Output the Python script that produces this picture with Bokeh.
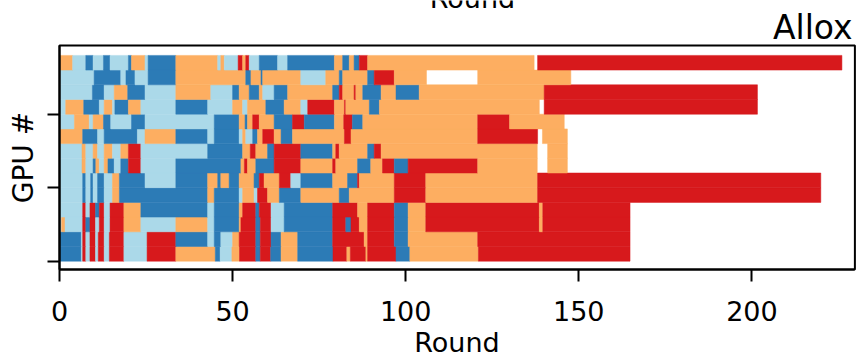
from bokeh.plotting import figure
from bokeh.models import Range1d, FixedTicker, Label, ColumnDataSource
from bokeh.embed import file_html
from bokeh.resources import INLINE

# Job occupancy per GPU: (start round, end round, job kind)
gpu_13 = [(0, 3.8, "O"), (3.8, 7.6, "L"), (7.6, 9.7, "B"), (9.7, 12.7, "L"), (12.7, 14.6, "B"),
          (14.6, 19.9, "L"), (19.9, 20.8, "B"), (20.8, 24.7, "O"), (24.7, 25.6, "L"), (25.6, 33.6, "B"),
          (33.6, 45.7, "O"), (45.7, 46.6, "L"), (46.6, 47.6, "O"), (47.6, 51.6, "L"), (51.6, 52.9, "R"),
          (52.9, 53.8, "O"), (53.8, 54.8, "R"), (54.8, 57.7, "L"), (57.7, 63.0, "B"), (63.0, 65.9, "L"),
          (65.9, 79.4, "B"), (79.4, 81.8, "O"), (81.8, 83.7, "B"), (83.7, 85.1, "O"), (85.1, 86.6, "B"),
          (86.6, 89.0, "R"), (89.0, 137.1, "O"), (138.1, 226.0, "R")]
gpu_12 = [(0, 10.0, "L"), (10.0, 17.7, "B"), (17.7, 19.2, "L"), (19.2, 21.8, "B"), (21.8, 25.6, "L"),
          (25.6, 33.6, "B"), (33.6, 53.8, "O"), (53.8, 55.3, "B"), (55.3, 58.2, "O"), (58.2, 58.7, "B"),
          (58.7, 69.7, "O"), (69.7, 76.9, "L"), (76.9, 80.8, "O"), (80.8, 81.8, "B"), (81.8, 89.0, "O"),
          (89.0, 90.9, "B"), (90.9, 96.7, "R"), (96.7, 106.0, "O"), (120.8, 147.7, "O")]
gpu_11 = [(0, 9.5, "L"), (9.5, 12.9, "B"), (12.9, 15.8, "L"), (15.8, 19.7, "O"), (19.7, 24.7, "B"),
          (24.7, 33.6, "L"), (33.6, 43.7, "O"), (43.7, 50.0, "L"), (50.0, 51.9, "B"), (51.9, 54.8, "O"),
          (54.8, 57.7, "B"), (57.7, 58.7, "O"), (58.7, 62.0, "L"), (62.0, 65.9, "B"), (65.9, 78.9, "O"),
          (78.9, 80.8, "B"), (80.8, 81.8, "R"), (81.8, 85.1, "O"), (85.1, 85.6, "R"), (85.6, 87.6, "O"),
          (87.6, 92.9, "B"), (92.9, 97.2, "O"), (97.2, 103.9, "B"), (103.9, 140.0, "O"), (140.0, 201.6, "R")]
gpu_10 = [(0, 1.8, "L"), (1.8, 7.0, "O"), (7.0, 11.5, "B"), (11.5, 12.9, "L"), (12.9, 15.3, "O"),
          (15.3, 16.0, "L"), (16.0, 19.9, "B"), (19.9, 23.5, "O"), (23.5, 33.6, "L"), (33.6, 42.8, "B"),
          (42.8, 50.0, "L"), (50.0, 52.9, "O"), (52.9, 54.3, "L"), (54.3, 59.6, "O"), (59.6, 64.9, "B"),
          (64.9, 69.7, "O"), (69.7, 71.7, "L"), (71.7, 79.4, "R"), (79.4, 82.3, "O"), (82.3, 82.7, "R"),
          (82.7, 89.5, "O"), (89.5, 92.4, "B"), (92.4, 138.6, "O"), (140.0, 201.6, "R")]
gpu_09 = [(0, 4.3, "L"), (4.3, 8.6, "O"), (8.6, 9.7, "L"), (9.7, 12.7, "O"), (12.7, 14.8, "B"),
          (14.8, 20.8, "L"), (20.8, 24.7, "B"), (24.7, 44.7, "L"), (44.7, 51.9, "B"), (51.9, 53.6, "O"),
          (53.6, 54.3, "B"), (54.3, 55.8, "O"), (55.8, 57.7, "R"), (57.7, 62.0, "O"), (62.0, 67.3, "B"),
          (67.3, 70.7, "R"), (70.7, 79.4, "B"), (79.4, 82.1, "O"), (82.1, 84.6, "R"), (84.6, 87.6, "B"),
          (87.6, 120.8, "O"), (120.8, 130.0, "R"), (130.0, 145.8, "O")]
gpu_08 = [(0, 6.7, "O"), (6.7, 11.0, "B"), (11.0, 12.9, "L"), (12.9, 22.5, "B"), (22.5, 24.7, "L"),
          (24.7, 33.6, "O"), (33.6, 42.8, "B"), (42.8, 44.7, "L"), (44.7, 51.9, "B"), (51.9, 52.9, "L"),
          (52.9, 53.8, "O"), (53.8, 55.8, "L"), (55.8, 57.2, "B"), (57.2, 58.7, "O"), (58.7, 62.0, "R"),
          (62.0, 64.0, "O"), (64.0, 67.3, "B"), (67.3, 82.3, "O"), (82.3, 84.2, "R"), (84.2, 120.8, "O"),
          (120.8, 138.1, "R"), (139.5, 146.7, "O")]
gpu_07 = [(0, 6.5, "L"), (6.5, 7.6, "O"), (7.6, 9.7, "L"), (9.7, 11.0, "O"), (11.0, 12.9, "L"),
          (12.9, 15.3, "O"), (15.3, 17.7, "L"), (17.7, 19.9, "O"), (19.9, 23.5, "R"), (23.5, 42.8, "L"),
          (42.8, 52.9, "B"), (52.9, 55.1, "O"), (55.1, 56.7, "R"), (56.7, 60.1, "O"), (60.1, 62.0, "B"),
          (62.0, 69.7, "R"), (69.7, 78.9, "B"), (78.9, 79.8, "O"), (79.8, 80.8, "R"), (80.8, 89.0, "O"),
          (89.0, 90.9, "B"), (90.9, 92.9, "R"), (92.9, 138.0, "O"), (141.0, 146.7, "O")]
gpu_06 = [(0, 6.5, "L"), (6.5, 7.6, "O"), (7.6, 9.7, "L"), (9.7, 10.5, "B"), (10.5, 11.5, "O"),
          (11.5, 12.9, "L"), (12.9, 14.0, "O"), (14.0, 15.8, "B"), (15.8, 17.7, "L"), (17.7, 19.9, "B"),
          (19.9, 23.5, "R"), (23.5, 33.6, "L"), (33.6, 52.4, "B"), (52.4, 53.4, "O"), (53.4, 54.3, "R"),
          (54.3, 56.7, "O"), (56.7, 62.0, "B"), (62.0, 69.7, "R"), (69.7, 78.9, "O"), (78.9, 79.8, "R"),
          (79.8, 86.1, "O"), (86.1, 89.9, "B"), (89.9, 93.3, "O"), (93.3, 96.7, "R"), (96.7, 100.7, "B"),
          (100.7, 120.8, "R"), (120.8, 138.0, "O"), (141.0, 146.7, "O")]
gpu_05 = [(0, 6.7, "L"), (6.7, 7.6, "B"), (7.6, 9.0, "L"), (9.0, 9.7, "B"), (9.7, 11.0, "L"),
          (11.0, 12.9, "B"), (12.9, 15.3, "L"), (15.3, 17.3, "O"), (17.3, 24.7, "B"), (24.7, 33.6, "L"),
          (33.6, 42.8, "B"), (42.8, 45.7, "O"), (45.7, 46.6, "B"), (46.6, 49.0, "O"), (49.0, 51.9, "B"),
          (51.9, 56.2, "O"), (56.2, 57.7, "B"), (57.7, 59.1, "R"), (59.1, 63.5, "O"), (63.5, 66.8, "R"),
          (66.8, 69.7, "L"), (69.7, 78.9, "B"), (78.9, 83.2, "O"), (83.2, 86.1, "B"), (86.1, 86.6, "R"),
          (86.6, 96.7, "O"), (96.7, 105.8, "R"), (105.8, 138.1, "O"), (138.1, 219.9, "R")]
gpu_04 = [(0, 6.7, "L"), (6.7, 7.6, "B"), (7.6, 9.0, "L"), (9.0, 9.7, "B"), (9.7, 11.0, "L"),
          (11.0, 12.9, "B"), (12.9, 15.3, "L"), (15.3, 17.3, "O"), (17.3, 42.8, "B"), (42.8, 44.7, "O"),
          (44.7, 51.9, "B"), (51.9, 52.9, "L"), (52.9, 56.2, "O"), (56.2, 57.2, "L"), (57.2, 60.1, "R"),
          (60.1, 63.5, "O"), (63.5, 69.7, "B"), (69.7, 80.8, "O"), (80.8, 83.7, "B"), (83.7, 96.7, "O"),
          (96.7, 105.8, "R"), (105.8, 138.1, "O"), (138.1, 219.9, "R")]
gpu_03 = [(0, 6.7, "L"), (6.7, 7.6, "R"), (7.6, 8.8, "L"), (8.8, 10.4, "R"), (10.4, 11.5, "B"),
          (11.5, 12.9, "R"), (12.9, 14.6, "L"), (14.6, 18.6, "R"), (18.6, 23.5, "O"), (23.5, 42.8, "B"),
          (42.8, 44.7, "L"), (44.7, 51.9, "B"), (51.9, 52.9, "O"), (52.9, 56.7, "R"), (56.7, 57.7, "B"),
          (57.7, 61.1, "R"), (61.1, 64.9, "L"), (64.9, 78.9, "B"), (78.9, 86.1, "R"), (86.1, 89.0, "O"),
          (89.0, 96.7, "R"), (96.7, 100.7, "B"), (100.7, 105.8, "O"), (105.8, 138.6, "R"),
          (138.6, 139.6, "O"), (139.6, 164.8, "R")]
gpu_02 = [(0, 0.6, "L"), (0.6, 1.6, "O"), (1.6, 6.7, "L"), (6.7, 7.6, "R"), (7.6, 8.8, "B"),
          (8.8, 10.4, "R"), (10.4, 11.5, "L"), (11.5, 12.9, "R"), (12.9, 14.6, "L"), (14.6, 18.6, "R"),
          (18.6, 23.5, "O"), (23.5, 33.6, "L"), (33.6, 42.8, "O"), (42.8, 44.7, "L"), (44.7, 51.9, "B"),
          (51.9, 52.4, "O"), (52.4, 56.7, "R"), (56.7, 58.0, "B"), (58.0, 61.1, "R"), (61.1, 64.9, "L"),
          (64.9, 78.9, "B"), (78.9, 82.7, "R"), (82.7, 84.2, "B"), (84.2, 86.6, "R"), (86.6, 89.0, "O"),
          (89.0, 96.7, "R"), (96.7, 100.7, "B"), (100.7, 105.8, "O"), (105.8, 138.6, "R"),
          (138.6, 139.6, "O"), (139.6, 164.8, "R")]
gpu_01 = [(0, 6.3, "B"), (6.3, 6.7, "L"), (6.7, 7.6, "R"), (7.6, 8.8, "L"), (8.8, 10.4, "R"),
          (10.4, 11.2, "L"), (11.2, 12.9, "R"), (12.9, 14.4, "L"), (14.4, 18.6, "R"), (18.6, 25.3, "L"),
          (25.3, 33.6, "R"), (33.6, 42.8, "B"), (42.8, 44.7, "L"), (44.7, 46.6, "B"), (46.6, 50.0, "L"),
          (50.0, 51.9, "O"), (51.9, 56.7, "R"), (56.7, 58.0, "B"), (58.0, 61.1, "R"), (61.1, 64.0, "B"),
          (64.0, 68.8, "O"), (68.8, 78.9, "B"), (78.9, 88.0, "R"), (88.0, 89.0, "O"), (89.0, 96.7, "R"),
          (96.7, 100.7, "B"), (100.7, 120.8, "O"), (120.8, 164.8, "R")]
gpu_00 = [(0, 6.3, "B"), (6.3, 6.7, "L"), (6.7, 7.6, "R"), (7.6, 8.8, "L"), (8.8, 10.4, "R"),
          (10.4, 11.2, "L"), (11.2, 12.9, "R"), (12.9, 14.4, "L"), (14.4, 18.6, "R"), (18.6, 25.3, "L"),
          (25.3, 33.6, "R"), (33.6, 45.0, "O"), (45.0, 46.4, "B"), (46.4, 49.8, "L"), (49.8, 52.0, "O"),
          (52.0, 56.7, "R"), (56.7, 58.0, "B"), (58.0, 61.0, "R"), (61.0, 64.0, "B"), (64.0, 68.8, "O"),
          (68.8, 79.0, "B"), (79.0, 83.0, "R"), (83.0, 84.0, "O"), (84.0, 88.5, "R"), (88.5, 89.0, "O"),
          (89.0, 97.2, "R"), (97.2, 101.2, "B"), (101.2, 121.0, "O"), (121.0, 164.8, "R")]

gpu_rows = [gpu_00, gpu_01, gpu_02, gpu_03, gpu_04, gpu_05, gpu_06,
            gpu_07, gpu_08, gpu_09, gpu_10, gpu_11, gpu_12, gpu_13]

kind_colors = {"R": "#d7191c", "O": "#fdae61", "L": "#abd9e9", "B": "#2c7bb6"}
x_ticks = [0, 50, 100, 150, 200]
y_ticks = [0, 5, 10]

# axes box limits (data units)
X_MIN, X_MAX = 0, 229.75
Y_MIN, Y_MAX = -0.565, 14.67

left, right, bottom, top, color = [], [], [], [], []
for gpu, segments in enumerate(gpu_rows):
    for start, end, kind in segments:
        left.append(start)
        right.append(end)
        bottom.append(gpu)
        top.append(gpu + 1)
        color.append(kind_colors[kind])
src = ColumnDataSource(dict(left=left, right=right, bottom=bottom, top=top, color=color))

FONT = "DejaVu Sans"

# The drawing area spans the whole canvas; both axes are pinned to the
# edges of the axes box and the heading texts sit inside the drawing area.
p = figure(width=859, height=358, output_backend="svg", toolbar_location=None,
           x_range=Range1d(-17.04, 231.08), y_range=Range1d(-6.619, 17.735),
           min_border_left=0, min_border_right=0, min_border_top=0, min_border_bottom=0,
           title=None)
p.background_fill_color = "white"
p.border_fill_color = "white"
p.outline_line_color = None
p.xgrid.visible = False
p.ygrid.visible = False

p.quad(left="left", right="right", bottom="bottom", top="top", source=src,
       fill_color="color", line_color="color", line_width=0.5)

# axes box
p.quad(left=[X_MIN], right=[X_MAX], bottom=[Y_MIN], top=[Y_MAX],
       fill_color=None, line_color="black", line_width=2)

for ax in (p.xaxis[0], p.yaxis[0]):
    ax.axis_line_color = "black"
    ax.axis_line_width = 2
    ax.major_tick_line_color = "black"
    ax.major_tick_line_width = 2
    ax.major_tick_out = 12
    ax.major_tick_in = 0
    ax.minor_tick_line_color = None
    ax.axis_label_text_font = FONT
    ax.axis_label_text_font_style = "normal"
    ax.axis_label_text_color = "black"

p.xaxis.fixed_location = Y_MIN
p.xaxis.bounds = (X_MIN, X_MAX)
p.xaxis.ticker = FixedTicker(ticks=x_ticks)
p.xaxis.major_label_text_font = FONT
p.xaxis.major_label_text_font_size = "27px"
p.xaxis.major_label_text_color = "black"
p.xaxis.major_label_standoff = 19
p.xaxis.axis_label = "Round"
p.xaxis.axis_label_text_font_size = "27px"
p.xaxis.axis_label_standoff = 3

p.yaxis.fixed_location = X_MIN
p.yaxis.bounds = (Y_MIN, Y_MAX)
p.yaxis.ticker = FixedTicker(ticks=y_ticks)
p.yaxis.major_label_overrides = {t: "" for t in y_ticks}
p.yaxis.major_label_text_font_size = "0px"
p.yaxis.axis_label = "GPU #"
p.yaxis.axis_label_text_font_size = "28px"
p.yaxis.axis_label_standoff = 8

p.add_layout(Label(x=229.06, y=15.90, text="Allox",
                   text_font=FONT, text_font_size="33px", text_color="black",
                   text_align="right", text_baseline="alphabetic"))
p.add_layout(Label(x=119.3, y=17.87, text="Round",
                   text_font=FONT, text_font_size="27px", text_color="black",
                   text_align="center", text_baseline="alphabetic"))

open("out.html", "w").write(file_html(p, INLINE))
